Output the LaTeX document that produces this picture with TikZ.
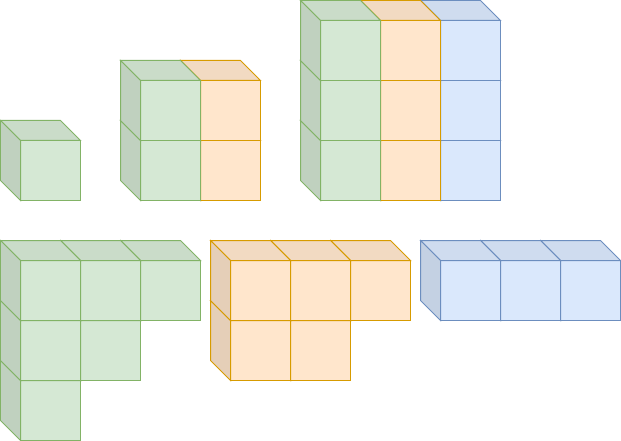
\documentclass[tikz,border=0pt]{standalone}
\definecolor{greenfill}{HTML}{D5E8D4}
\definecolor{greenline}{HTML}{82B366}
\definecolor{orangefill}{HTML}{FFE6CC}
\definecolor{orangeline}{HTML}{D79B00}
\definecolor{bluefill}{HTML}{DAE8FC}
\definecolor{blueline}{HTML}{6C8EBF}
\tikzset{
  cube/.pic={
    \draw [draw=#1line,fill=#1fill] (20,20) rectangle (80,80);
    \draw [draw=#1line,fill=#1fill!95!black] (0,0) -- (60,0) -- (80,20) -- (20,20) -- cycle;
    \draw [draw=#1line,fill=#1fill!90!black] (0,0) -- (20,20) -- (20,80) -- (0,60) -- cycle;
  }
}
\begin{document}
\begin{tikzpicture}[x=1pt,y=-1pt,line width=1pt]
\useasboundingbox (-0.5,-0.5) rectangle (620.5,440.5);
% single cube
\pic at (0,120) {cube=green};
% two by two
\foreach \y in {120,60}
  \pic at (180,\y) {cube=orange};
\foreach \y in {120,60}
  \pic at (120,\y) {cube=green};
% three by three
\foreach \y in {120,60,0}
  \pic at (420,\y) {cube=blue};
\foreach \y in {120,60,0}
  \pic at (360,\y) {cube=orange};
\foreach \y in {120,60,0}
  \pic at (300,\y) {cube=green};
% green steps
\foreach \x/\y in {0/360,60/300,0/300,120/240,60/240,0/240}
  \pic at (\x,\y) {cube=green};
% orange steps
\foreach \x/\y in {270/300,210/300,330/240,270/240,210/240}
  \pic at (\x,\y) {cube=orange};
% blue row
\foreach \x in {540,480,420}
  \pic at (\x,240) {cube=blue};
\end{tikzpicture}
\end{document}
